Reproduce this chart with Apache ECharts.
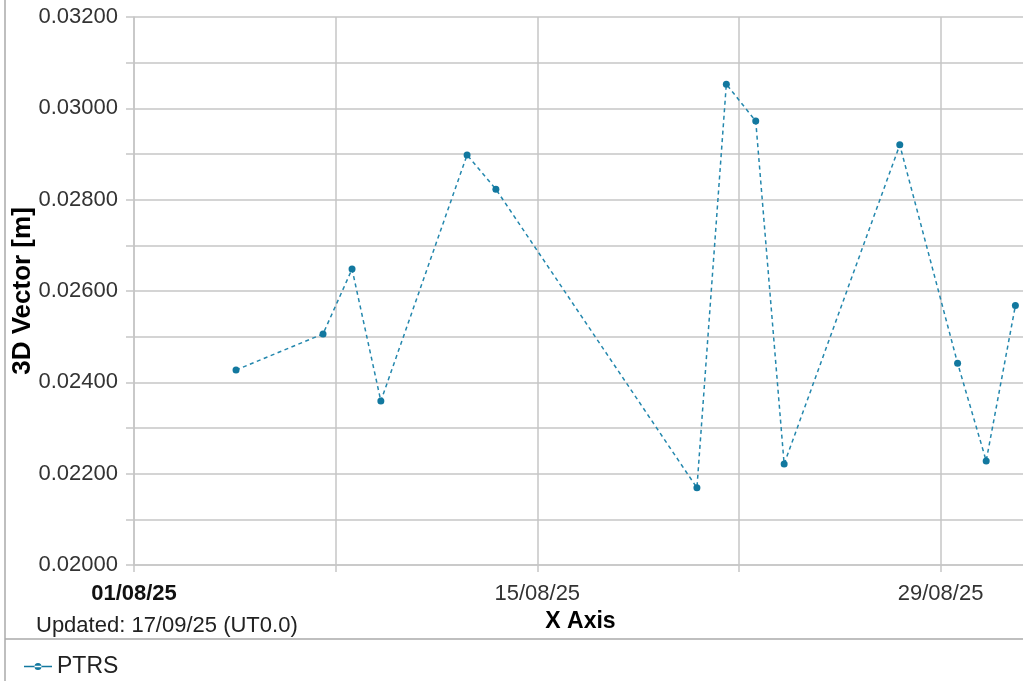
<!DOCTYPE html>
<html><head><meta charset="utf-8">
<script src="https://cdn.jsdelivr.net/npm/echarts@6/dist/echarts.min.js"></script>
<style>html,body{margin:0;padding:0;background:#fff}#c{width:1023px;height:681px}</style>
</head><body><div id="c"></div>
<script>
const seriesName = 'PTRS';
const dates = ['2025-08-04T13:00','2025-08-07T13:30','2025-08-08T13:40','2025-08-09T13:40','2025-08-12T13:30','2025-08-13T13:30','2025-08-20T13:00','2025-08-21T13:30','2025-08-22T14:00','2025-08-23T13:40','2025-08-27T14:00','2025-08-29T14:10','2025-08-30T14:00','2025-08-31T14:20'];
const values = [0.02427,0.02506,0.02648,0.02359,0.02898,0.02823,0.02169,0.03053,0.02972,0.02221,0.02920,0.02442,0.02228,0.02568];
const xTickLabels = {0:'01/08/25',14:'15/08/25',28:'29/08/25'};
const yMin = 0.020, yMax = 0.032, yStep = 0.001;
const startMs = Date.UTC(2025,7,1);
const pts = dates.map((d,i)=>[(Date.parse(d+'Z')-startMs)/86400000, values[i]]);
const font = '"Liberation Sans", Arial, sans-serif';
const gridColor = '#c6c6c6';
const chart = echarts.init(document.getElementById('c'));
chart.setOption({
  animation:false,
  textStyle:{fontFamily:font},
  grid:{left:134,width:893,top:17,bottom:116,outerBoundsMode:'none',containLabel:false},
  xAxis:{type:'value',min:0,max:31,interval:7,
    axisLine:{lineStyle:{color:gridColor,width:1.5}},
    axisTick:{show:true,length:7,lineStyle:{color:gridColor,width:1.5}},
    splitLine:{show:true,lineStyle:{color:gridColor,width:1.5}},
    axisLabel:{fontSize:22,color:'#333',margin:18,fontFamily:font,
      formatter:v=>{const t=xTickLabels[Math.round(v)];if(!t)return '';return Math.round(v)===0?'{b|'+t+'}':t;},
      rich:{b:{fontSize:22,fontWeight:'bold',color:'#111',fontFamily:font}}},
    name:'X Axis',nameLocation:'middle',nameGap:45,nameMoveOverlap:false,
    nameTextStyle:{fontSize:23,fontWeight:'bold',color:'#000',fontFamily:font}},
  yAxis:{type:'value',min:yMin,max:yMax,interval:yStep,
    axisLine:{show:true,lineStyle:{color:gridColor,width:1.5}},
    axisTick:{show:true,length:8,lineStyle:{color:gridColor,width:1.5}},
    splitLine:{show:true,lineStyle:{color:gridColor,width:1.5}},
    axisLabel:{fontSize:22,color:'#333',margin:16,fontFamily:font,
      formatter:v=>Math.round(v*1000)%2===0?v.toFixed(5):''},
    name:'3D Vector [m]',nameLocation:'middle',nameGap:98,nameMoveOverlap:false,
    nameTextStyle:{fontSize:26,fontWeight:'bold',color:'#000',fontFamily:font}},
  legend:{left:19,top:650,itemWidth:28,itemHeight:8,itemGap:8,
    icon:'path://M0,3.2H28V4.8H0Z M10.5,4A3.5,3.5 0 1,0 17.5,4A3.5,3.5 0 1,0 10.5,4Z',
    textStyle:{fontSize:23,color:'#222',fontFamily:font},data:[seriesName]},
  title:{text:'Updated: 17/09/25 (UT0.0)',left:31,top:610,
    textStyle:{fontSize:22,fontWeight:'normal',color:'#222',fontFamily:font}},
  graphic:[
    {type:'line',shape:{x1:5,y1:0,x2:5,y2:681},style:{stroke:'#aaa',lineWidth:1.5}},
    {type:'line',shape:{x1:5,y1:639,x2:1023,y2:639},style:{stroke:'#aaa',lineWidth:1.5}}
  ],
  series:[{name:seriesName,type:'line',data:pts,
    symbol:'circle',symbolSize:7,
    itemStyle:{color:'#12789f'},
    lineStyle:{color:'#2387ad',width:1.5,type:[4,3.5]}}]
});
</script></body></html>
